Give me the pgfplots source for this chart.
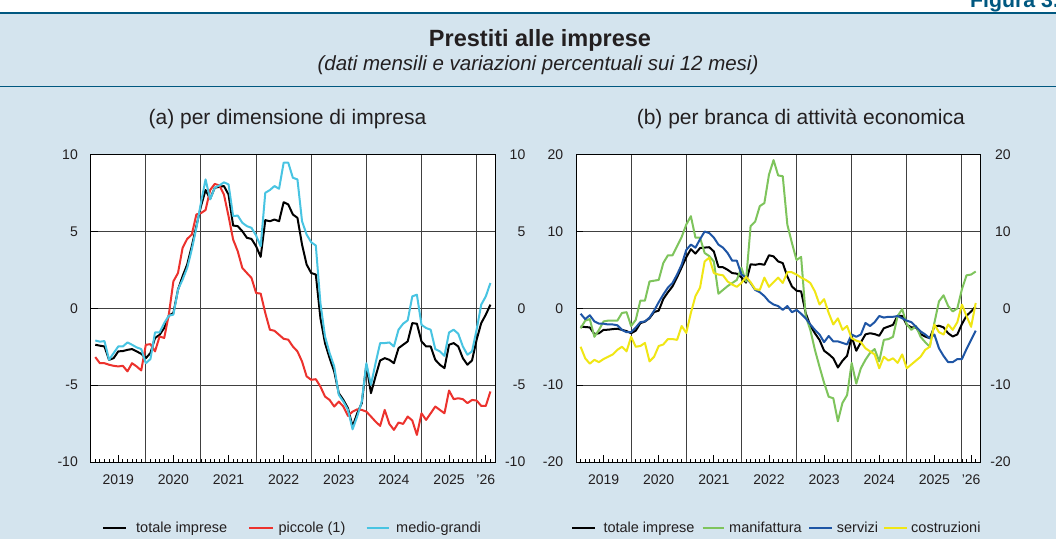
\documentclass[border=0pt]{standalone}
\usepackage{fontspec}
\setmainfont{Liberation Sans}
\usepackage{pgfplots}
\usepackage{pgfplotstable}
\pgfplotsset{compat=1.18}

\definecolor{bgblue}{RGB}{212,228,238}
\definecolor{dteal}{RGB}{0,88,128}
\definecolor{txt}{RGB}{35,31,32}
\definecolor{cred}{RGB}{236,50,45}
\definecolor{ccyan}{RGB}{72,196,226}
\definecolor{cgreen}{RGB}{126,196,92}
\definecolor{cblue}{RGB}{30,85,165}
\definecolor{cyellow}{RGB}{240,230,20}

\pgfplotstableread{
m tot pic med man ser cos
1 -2.37 -3.17 -2.09 -2.6 -0.7 -5.0
2 -2.43 -3.57 -2.17 -1.6 -1.4 -6.5
3 -2.48 -3.57 -2.13 -1.4 -0.9 -7.2
4 -3.35 -3.67 -3.35 -3.7 -1.7 -6.7
5 -3.24 -3.74 -2.91 -2.8 -2.0 -7.0
6 -2.80 -3.78 -2.48 -1.7 -2.0 -6.6
7 -2.78 -3.74 -2.48 -1.6 -2.1 -6.3
8 -2.70 -4.10 -2.22 -1.6 -2.1 -6.0
9 -2.65 -3.57 -2.37 -1.6 -2.2 -5.4
10 -2.80 -3.78 -2.54 -0.6 -2.8 -5.0
11 -2.96 -4.04 -2.65 -0.5 -3.1 -5.6
12 -3.24 -2.37 -3.57 -2.3 -3.1 -3.7
13 -2.91 -2.33 -3.30 -1.5 -2.5 -5.0
14 -1.93 -2.80 -1.57 1.0 -1.8 -4.9
15 -1.72 -1.83 -1.57 1.0 -1.7 -4.5
16 -1.28 -1.93 -0.96 3.5 -1.2 -6.9
17 -0.48 -0.41 -0.48 3.6 -0.3 -6.3
18 -0.30 1.76 -0.41 3.7 0.8 -4.9
19 1.22 2.30 1.22 5.9 1.8 -4.7
20 2.09 3.93 1.87 6.9 2.7 -4.0
21 2.85 4.52 2.63 6.9 3.3 -4.0
22 4.04 4.80 3.83 8.1 4.4 -4.1
23 5.35 6.11 5.24 9.3 5.7 -2.3
24 6.65 6.20 6.87 10.9 7.6 -3.2
25 7.70 6.40 8.39 12.0 8.3 -0.6
26 7.13 7.70 7.09 9.2 7.9 1.6
27 7.85 8.10 7.85 9.2 9.0 2.7
28 7.91 8.00 8.00 7.2 10.0 6.1
29 7.96 7.41 8.20 6.8 9.8 6.6
30 7.41 6.00 8.07 6.1 9.2 4.6
31 5.39 4.48 6.00 1.9 8.3 4.4
32 5.35 3.72 6.04 2.4 7.9 4.3
33 5.02 2.63 5.57 2.9 7.2 3.5
34 4.59 2.30 5.35 3.3 6.2 3.1
35 4.52 1.98 5.24 3.7 6.2 2.8
36 4.04 1.00 4.74 5.3 4.4 3.3
37 3.35 0.96 4.04 3.5 4.0 4.1
38 5.74 -0.30 7.52 10.7 3.3 3.4
39 5.67 -1.39 7.70 11.3 2.4 2.5
40 5.78 -1.46 7.96 13.3 2.1 2.4
41 5.67 -1.72 7.78 13.7 1.6 4.0
42 6.91 -1.98 9.48 17.4 0.9 2.8
43 6.76 -2.04 9.48 19.3 0.5 3.4
44 6.11 -2.48 8.50 17.3 0.3 4.0
45 5.89 -2.80 8.39 17.2 -0.2 3.3
46 4.15 -3.46 5.67 10.9 0.3 4.7
47 2.85 -4.43 4.80 8.5 -0.5 4.7
48 2.30 -4.65 4.30 6.3 -0.2 4.4
49 2.20 -4.61 4.09 6.7 -0.7 4.0
50 -0.63 -5.09 0.35 -1.0 -1.3 3.7
51 -2.26 -5.74 -1.83 -2.8 -2.1 3.3
52 -3.24 -5.96 -2.91 -5.4 -2.8 2.2
53 -4.11 -6.39 -3.78 -7.6 -3.4 0.5
54 -5.52 -6.07 -5.63 -9.7 -4.4 1.2
55 -5.96 -6.39 -6.07 -11.5 -3.6 -0.6
56 -6.50 -7.00 -6.61 -11.7 -4.3 -2.1
57 -7.70 -6.72 -7.87 -14.7 -4.3 -1.3
58 -6.83 -6.57 -7.04 -12.3 -4.5 -2.8
59 -6.17 -6.61 -6.07 -11.3 -4.7 -2.3
60 -3.67 -6.72 -3.57 -7.1 -3.4 -3.9
61 -5.52 -7.04 -4.98 -9.8 -3.7 -4.2
62 -4.43 -7.37 -3.57 -7.8 -3.4 -4.4
63 -3.39 -7.65 -2.26 -6.7 -1.9 -5.2
64 -3.24 -6.61 -2.26 -5.8 -2.3 -5.6
65 -3.35 -7.52 -2.22 -5.3 -1.8 -6.0
66 -3.57 -7.91 -2.48 -6.9 -1.0 -7.8
67 -2.59 -7.43 -1.39 -4.1 -1.2 -6.3
68 -2.37 -7.52 -1.00 -4.0 -1.1 -6.8
69 -2.15 -7.04 -0.78 -3.7 -1.1 -6.5
70 -0.96 -7.30 0.78 -1.0 -1.0 -7.1
71 -1.00 -8.24 0.89 -0.1 -1.3 -6.0
72 -2.15 -6.83 -1.07 -2.1 -1.6 -7.8
73 -2.48 -7.26 -1.28 -2.8 -1.8 -7.3
74 -2.48 -6.83 -1.39 -2.3 -2.4 -6.8
75 -3.35 -6.39 -2.65 -3.7 -3.0 -6.3
76 -3.67 -6.61 -2.80 -4.4 -3.4 -5.4
77 -3.89 -6.83 -3.09 -5.0 -3.9 -5.0
78 -2.37 -5.35 -1.57 -1.9 -3.4 -2.1
79 -2.26 -5.91 -1.39 0.9 -5.2 -3.1
80 -2.48 -5.85 -1.65 1.7 -6.2 -3.4
81 -3.24 -5.91 -2.48 0.3 -7.0 -2.1
82 -3.67 -6.17 -3.02 -0.4 -7.0 -2.8
83 -3.39 -5.96 -2.80 0.0 -6.6 -1.8
84 -2.04 -6.00 -1.39 2.5 -6.6 0.5
85 -0.96 -6.35 0.24 4.3 -5.3 -1.0
86 -0.41 -6.35 0.78 4.4 -4.1 -2.4
87 0.24 -5.41 1.65 4.8 -2.9 0.7
}\data

\pgfplotsset{
  panel/.style={
    anchor=south west, width=404.3pt, height=307.3pt, scale only axis,
    xmin=0, xmax=88,
    axis background/.style={fill=white},
    axis line style={black, line width=1pt},
    xtick={6,18,30,42,54,66,78,86},
    xticklabels={2019,2020,2021,2022,2023,2024,2025,'26},
    minor xtick={0,...,88},
    extra x ticks={12,24,36,48,60,72,84},
    extra x tick labels={},
    extra x tick style={grid=major, major tick length=0pt},
    ymajorgrids,
    major grid style={black!75, line width=1pt},
    tick align=inside, xtick pos=left, ytick pos=left,
    major tick length=7pt, minor tick length=3.5pt,
    tick style={black, line width=0.8pt},
    xticklabel style={anchor=north, inner sep=0pt, yshift=-13pt, font=\fontsize{14}{16}\selectfont, text=txt},
    yticklabel style={anchor=east, inner sep=0pt, xshift=-12.7pt, font=\fontsize{14}{16}\selectfont, text=txt},
    every axis plot/.append style={line width=2pt, line join=round},
  },
  rlabels/.style={
    anchor=south west, width=404.3pt, height=307.3pt, scale only axis,
    xmin=0, xmax=88,
    axis line style={draw=none}, xtick=\empty,
    yticklabel pos=right, major tick length=0pt,
    yticklabel style={anchor=east, inner sep=0pt, xshift=30.5pt, font=\fontsize{14}{16}\selectfont, text=txt},
  },
}

\begin{document}
\begin{tikzpicture}[x=1pt,y=1pt]
\useasboundingbox (0,0) rectangle (1056,539);
\clip (0,0) rectangle (1056,539);
\fill[white] (0,0) rectangle (1056,539);
\fill[bgblue] (0,0) rectangle (1056,526.2);
\draw[dteal, line width=2.5pt] (0,526.2) -- (1056,526.2);
\draw[dteal, line width=1.3pt] (0,452.3) -- (1056,452.3);
\node[anchor=base west, inner sep=0pt, text=dteal, font=\fontsize{21.3}{25}\selectfont\bfseries] at (970,531.7) {Figura 3.};
\node[anchor=base, inner sep=0pt, text=txt, font=\fontsize{23.5}{28}\selectfont\bfseries] at (540,492.7) {Prestiti alle imprese};
\node[anchor=base, inner sep=0pt, text=txt, font=\fontsize{20.5}{24}\selectfont\itshape] at (538,468) {(dati mensili e variazioni percentuali sui 12 mesi)};
\node[anchor=base, inner sep=0pt, text=txt, font=\fontsize{21}{25}\selectfont] at (287.5,414.5) {(a) per dimensione di impresa};
\node[anchor=base, inner sep=0pt, text=txt, font=\fontsize{21}{25}\selectfont] at (800.8,414.5) {(b) per branca di attività economica};

% panel (a)
\begin{axis}[panel, at={(90.7pt,77pt)}, ymin=-10, ymax=10,
  ytick={-10,-5,0,5,10}, yticklabels={-10,-5,0,5,10}]
\addplot[black] table[x=m,y=tot]{\data};
\addplot[cred] table[x=m,y=pic]{\data};
\addplot[ccyan] table[x=m,y=med]{\data};
\end{axis}
\begin{axis}[rlabels, at={(90.7pt,77pt)}, ymin=-10, ymax=10,
  ytick={-10,-5,0,5,10}, yticklabels={-10,-5,0,5,10}]
\end{axis}

% panel (b)
\begin{axis}[panel, at={(576pt,77pt)}, ymin=-20, ymax=20,
  ytick={-20,-10,0,10,20}, yticklabels={-20,-10,0,10,20}]
\addplot[black] table[x=m,y=tot]{\data};
\addplot[cgreen] table[x=m,y=man]{\data};
\addplot[cblue] table[x=m,y=ser]{\data};
\addplot[cyellow] table[x=m,y=cos]{\data};
\end{axis}
\begin{axis}[rlabels, at={(576pt,77pt)}, ymin=-20, ymax=20,
  ytick={-20,-10,0,10,20}, yticklabels={-20,-10,0,10,20}]
\end{axis}

% legends
\begin{scope}[every node/.style={anchor=base west, inner sep=0pt, text=txt, font=\fontsize{14.5}{17}\selectfont}]
\draw[black, line width=2pt] (103,11.3) -- (125.5,11.3);
\node at (136,6.7) {totale imprese};
\draw[cred, line width=2pt] (249,11.3) -- (272.7,11.3);
\node at (278.3,6.7) {piccole (1)};
\draw[ccyan, line width=2pt] (366.7,11.3) -- (389.3,11.3);
\node at (396,6.7) {medio-grandi};
\draw[black, line width=2pt] (572.3,11.3) -- (595,11.3);
\node at (603.3,6.7) {totale imprese};
\draw[cgreen, line width=2pt] (702.7,11.3) -- (724.3,11.3);
\node at (729,6.7) {manifattura};
\draw[cblue, line width=2pt] (809.3,11.3) -- (832.3,11.3);
\node at (836.7,6.7) {servizi};
\draw[cyellow, line width=2pt] (884.3,11.3) -- (907,11.3);
\node at (911,6.7) {costruzioni};
\end{scope}
\end{tikzpicture}
\end{document}
